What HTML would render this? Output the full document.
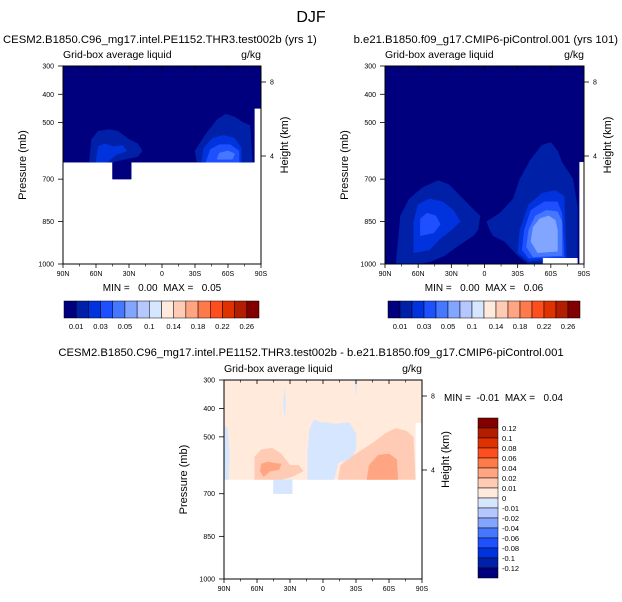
<!DOCTYPE html>
<html><head><meta charset="utf-8">
<style>
html,body{margin:0;padding:0;background:#fff;}
svg{display:block;font-family:"Liberation Sans",sans-serif;}
.pre{white-space:pre;}
</style></head>
<body>
<svg id="fig" width="622" height="602" viewBox="0 0 622 602" xmlns="http://www.w3.org/2000/svg">
<text x="311" y="22" font-size="16" text-anchor="middle">DJF</text>
<text x="3" y="43" font-size="11.3">CESM2.B1850.C96_mg17.intel.PE1152.THR3.test002b (yrs 1)</text>
<text x="618" y="43" font-size="11.3" text-anchor="end">b.e21.B1850.f09_g17.CMIP6-piControl.001 (yrs 101)</text>
<text x="311" y="356" font-size="11.3" text-anchor="middle">CESM2.B1850.C96_mg17.intel.PE1152.THR3.test002b - b.e21.B1850.f09_g17.CMIP6-piControl.001</text>
<g id="p1"></g>
<g id="p2"></g>
<g id="p3"></g>
</svg>
<script>
const absLevels = ["0.01","0.03","0.05","0.1","0.14","0.18","0.22","0.26"];
const diffLevels = ["0.12","0.1","0.08","0.06","0.04","0.02","0.01","0","-0.01","-0.02","-0.04","-0.06","-0.08","-0.1","-0.12"];
const pressureTicks = [300,400,500,700,850,1000];
const latTicks = [90,60,30,0,-30,-60,-90];
const latLabels = ["90N","60N","30N","0","30S","60S","90S"];
const colors = ["#00007f","#0020a8","#0033dd","#1e50ff","#4678ff","#82a5ff","#b4c8ff","#d7e6ff","#ffeadc","#ffcbb4","#ffa582","#ff7a4a","#ff4e1e","#e03200","#b41e00","#820000"];

const p1Field = [[90,300],[-90,300],[-90,450],[-84,450],[-84,640],[-30,640],[-30,640],[28,640],[28,700],[45,700],[45,640],[90,640]];
const p1Blobs = [
 {lvl:1, pts:[[66,640],[64,560],[58,530],[48,525],[40,530],[30,560],[22,575],[18,600],[22,620],[34,630],[45,640]]},
 {lvl:1, pts:[[-32,640],[-30,600],[-40,540],[-50,490],[-58,470],[-66,480],[-74,500],[-80,510],[-82,640]]},
 {lvl:2, pts:[[60,640],[58,585],[52,575],[44,585],[36,580],[32,600],[42,615],[50,640]]},
 {lvl:2, pts:[[-36,640],[-38,590],[-46,555],[-56,545],[-66,555],[-72,590],[-72,640]]},
 {lvl:3, pts:[[-40,640],[-44,595],[-52,578],[-62,578],[-70,600],[-70,640]]},
 {lvl:4, pts:[[-50,630],[-52,608],[-60,600],[-66,610],[-64,630]]}
];
const p2Field = [[90,300],[-90,300],[-90,1000],[90,1000]];
const p2Blobs = [
 {lvl:1, pts:[[80,1000],[76,830],[68,770],[56,730],[42,705],[32,720],[22,760],[12,800],[4,830],[6,880],[10,900],[22,930],[36,970],[48,990],[60,1000]]},
 {lvl:1, pts:[[-5,880],[-2,850],[-14,820],[-26,770],[-32,700],[-42,630],[-52,580],[-60,570],[-66,600],[-70,640],[-80,700],[-84,800],[-84,1000],[-40,1000],[-30,970],[-18,920],[-8,900]]},
 {lvl:2, pts:[[64,960],[64,850],[60,790],[50,770],[38,780],[28,810],[22,850],[30,880],[40,910],[50,950]]},
 {lvl:2, pts:[[-30,960],[-32,880],[-40,790],[-52,750],[-64,740],[-72,760],[-74,980],[-40,990]]},
 {lvl:3, pts:[[58,900],[58,840],[52,820],[44,830],[40,860],[46,890]]},
 {lvl:3, pts:[[-34,950],[-36,880],[-42,810],[-54,780],[-66,780],[-70,820],[-72,975],[-40,980]]},
 {lvl:4, pts:[[-38,940],[-40,880],[-46,830],[-56,810],[-66,815],[-70,850],[-70,970],[-44,975]]},
 {lvl:5, pts:[[-42,920],[-44,870],[-50,840],[-58,830],[-64,845],[-66,880],[-66,955],[-48,960]]}
];
const p2White = [[[-53,1000],[-53,980],[-84,980],[-84,1000]],[[-86,1000],[-86,640],[-90,640],[-90,1000]]];
const p3Field = [[90,300],[-90,300],[-90,450],[-84,450],[-84,650],[28,650],[28,700],[45,700],[45,650],[90,650]];
const p3Blobs = [
 {lvl:7, pts:[[14,650],[14,560],[12,470],[8,440],[2,450],[-4,450],[-10,455],[-24,450],[-30,490],[-30,540],[-26,580],[-14,590],[-10,650]]},
 {lvl:7, pts:[[90,650],[90,460],[87,470],[85,560],[86,650]]},
 {lvl:7, pts:[[45,700],[45,650],[28,650],[28,700]]},
 {lvl:7, pts:[[36,380],[35,330],[34,380],[35,430]]},
 {lvl:7, pts:[[-29,300],[-31,300],[-30,350]]},
 {lvl:9, pts:[[62,650],[62,570],[56,545],[46,540],[38,560],[30,600],[22,600],[18,620],[28,640],[38,650]]},
 {lvl:9, pts:[[-14,650],[-16,600],[-30,560],[-46,520],[-56,490],[-66,470],[-76,480],[-82,500],[-84,650]]},
 {lvl:10, pts:[[57,620],[56,595],[50,588],[44,593],[38,595],[40,615],[48,620],[54,640]]},
 {lvl:10, pts:[[-40,650],[-42,600],[-50,565],[-60,560],[-67,580],[-68,650]]}
];

function makePanel(g, x0, y0, w, h, field, fieldLvl, blobs, whites, hx) {
  const ns = "http://www.w3.org/2000/svg";
  const xs = lat => x0 + (90 - lat) / 180 * w;
  const ys = p => y0 + (p - 300) / 700 * h;
  function poly(pts, fill, name) {
    const e = document.createElementNS(ns, "polygon");
    e.setAttribute("points", pts.map(q => xs(q[0]).toFixed(1) + "," + ys(q[1]).toFixed(1)).join(" "));
    e.setAttribute("fill", fill);
    e.setAttribute("stroke", fill);
    e.setAttribute("stroke-width", "0.5");
    e.setAttribute("stroke-linejoin", "round");
    
    
    g.appendChild(e);
  }
  function el(tag, attrs, text) {
    const e = document.createElementNS(ns, tag);
    for (const k in attrs) e.setAttribute(k, attrs[k]);
    if (text !== undefined) e.textContent = text;
    g.appendChild(e);
    return e;
  }
  poly(field, colors[fieldLvl], "contour-field");
  blobs.forEach(b => poly(b.pts, colors[b.lvl], "contour-level-" + b.lvl));
  (whites || []).forEach(wp => poly(wp, "#ffffff", "missing-region"));
  const fr = el("rect", {x:x0, y:y0, width:w, height:h, fill:"none", stroke:"#000", "stroke-width":"1"});
  
  
  pressureTicks.forEach(p => {
    const y = ys(p);
    const l = el("line", {x1:x0-5, x2:x0, y1:y, y2:y, stroke:"#000", "stroke-width":"0.8"});
    
    
    const t = el("text", {x:x0-9, y:y+2.5, "font-size":"7", "text-anchor":"end"}, String(p));
    
    
  });
  latTicks.forEach((lat, i) => {
    const x = xs(lat);
    el("line", {x1:x, x2:x, y1:y0+h, y2:y0+h+4, stroke:"#000", "stroke-width":"0.8"});
    el("line", {x1:x, x2:x, y1:y0, y2:y0+4, stroke:"#000", "stroke-width":"0.8"});
    const t = el("text", {x:x, y:y0+h+12, "font-size":"7", "text-anchor":"middle"}, latLabels[i]);
    
    
  });
  for (let lat = 75; lat > -90; lat -= 15) {
    if (lat % 30 === 0) continue;
    const x = xs(lat);
    el("line", {x1:x, x2:x, y1:y0, y2:y0+2.5, stroke:"#000", "stroke-width":"0.6"});
    el("line", {x1:x, x2:x, y1:y0+h, y2:y0+h+2.5, stroke:"#000", "stroke-width":"0.6"});
  }
  [[8, 16], [4, 90]].forEach(hv => {
    const y = y0 + hv[1];
    el("line", {x1:x0+w, x2:x0+w+5, y1:y, y2:y, stroke:"#000", "stroke-width":"0.8"});
    el("text", {x:x0+w+9, y:y+2.5, "font-size":"7"}, String(hv[0]));
  });
  const yt = el("text", {x:0, y:0, "font-size":"11", "text-anchor":"middle", transform:`translate(${x0-37},${y0+h/2}) rotate(-90)`}, "Pressure (mb)");
  
  
  const ht = el("text", {x:0, y:0, "font-size":"11", "text-anchor":"middle", transform:`translate(${x0+w+hx},${y0+h/2-20}) rotate(-90)`}, "Height (km)");
  
  
  const st = el("text", {x:x0, y:y0-8, "font-size":"10.5"}, "Grid-box average liquid");
  
  
  const ut = el("text", {x:x0+w, y:y0-8, "font-size":"10.5", "text-anchor":"end"}, "g/kg");
  
  
}

function hbar(g, x0, y0, w, h, cx, mintxt) {
  const ns = "http://www.w3.org/2000/svg";
  const bw = w / 16;
  colors.forEach((c, i) => {
    const r = document.createElementNS(ns, "rect");
    r.setAttribute("x", x0 + i * bw); r.setAttribute("y", y0);
    r.setAttribute("width", bw); r.setAttribute("height", h);
    r.setAttribute("fill", c); r.setAttribute("stroke", "#000"); r.setAttribute("stroke-width", "0.5");
    
    
    g.appendChild(r);
  });
  absLevels.forEach((s, i) => {
    const t = document.createElementNS(ns, "text");
    t.setAttribute("x", x0 + (1 + 2 * i) * bw); t.setAttribute("y", y0 + h + 11);
    t.setAttribute("font-size", "7.5"); t.setAttribute("text-anchor", "middle");
    t.textContent = s;
    
    
    g.appendChild(t);
  });
  const m = document.createElementNS(ns, "text");
  m.setAttribute("x", cx); m.setAttribute("y", 291);
  m.setAttribute("font-size", "10"); m.setAttribute("text-anchor", "middle");
  m.setAttribute("class", "pre");
  m.textContent = mintxt;
  
  
  g.appendChild(m);
}

const g1 = document.getElementById("p1"), g2 = document.getElementById("p2"), g3 = document.getElementById("p3");
makePanel(g1, 63, 66, 198, 198, p1Field, 0, p1Blobs, [], 27);
hbar(g1, 64, 301, 195, 17, 162, "MIN =   0.00  MAX =   0.05");
makePanel(g2, 385, 66, 199, 198, p2Field, 0, p2Blobs, p2White, 27);
hbar(g2, 388, 301, 192, 17, 484, "MIN =   0.00  MAX =   0.06");
makePanel(g3, 224, 380, 198, 199, p3Field, 8, p3Blobs, [], 27);

(function(){
  const ns = "http://www.w3.org/2000/svg";
  const x0 = 478, y0 = 418, w = 20, bh = 10;
  const rev = colors.slice().reverse();
  rev.forEach((c, i) => {
    const r = document.createElementNS(ns, "rect");
    r.setAttribute("x", x0); r.setAttribute("y", y0 + i * bh);
    r.setAttribute("width", w); r.setAttribute("height", bh);
    r.setAttribute("fill", c); r.setAttribute("stroke", "#000"); r.setAttribute("stroke-width", "0.5");
    
    
    g3.appendChild(r);
  });
  diffLevels.forEach((s, i) => {
    const t = document.createElementNS(ns, "text");
    t.setAttribute("x", 502); t.setAttribute("y", y0 + (i + 1) * bh + 3);
    t.setAttribute("font-size", "7.5");
    t.textContent = s;
    
    
    g3.appendChild(t);
  });
  const m = document.createElementNS(ns, "text");
  m.setAttribute("x", 444); m.setAttribute("y", 401);
  m.setAttribute("font-size", "10");
  m.setAttribute("class", "pre");
  m.textContent = "MIN =  -0.01  MAX =   0.04";
  
  
  g3.appendChild(m);
})();
</script>
</body></html>
